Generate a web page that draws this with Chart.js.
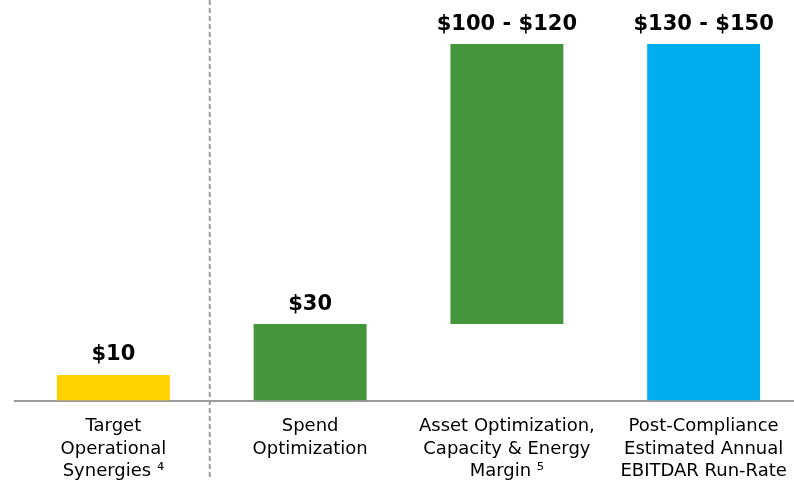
<!DOCTYPE html>
<html>
<head>
<meta charset="utf-8">
<script src="https://cdn.jsdelivr.net/npm/chart.js@4"></script>
<style>
  html, body { margin: 0; padding: 0; background: #fff; overflow: hidden; }
  #wrap { width: 802px; height: 498px; position: relative; }
</style>
</head>
<body>
<div id="wrap"><canvas id="grafica"></canvas></div>
<script>
var categorias = [
    ["Target", "Operational", "Synergies \u2074"],
    ["Spend", "Optimization"],
    ["Asset Optimization,", "Capacity & Energy", "Margin \u2075"],
    ["Post-Compliance", "Estimated Annual", "EBITDAR Run-Rate"]
];
var inicio = [0, 0, 30, 0];      // base of each bar
var fin = [10, 30, 140, 140];     // top of each bar
var etiquetas = ["$10", "$30", "$100 - $120", "$130 - $150"];
var colores = ["#ffd200", "#43963b", "#43963b", "#00aeef"];

var colorGris = "#9a9a9a";
var fuente = "'DejaVu Sans', Verdana, sans-serif";

var datos = inicio.map(function (v, i) { return [v, fin[i]]; });

// value labels above each bar
var pluginEtiquetas = {
    id: 'etiquetas',
    afterDatasetsDraw: function (chart) {
        var ctx = chart.ctx;
        var meta = chart.getDatasetMeta(0);
        ctx.save();
        ctx.font = "bold 21px " + fuente;
        ctx.fillStyle = "#000";
        ctx.textAlign = "center";
        ctx.textBaseline = "middle";
        meta.data.forEach(function (bar, i) {
            ctx.fillText(etiquetas[i], bar.x, bar.y - 20);
        });
        ctx.restore();
    }
};

// dashed separator between the first and second category
var pluginSeparador = {
    id: 'separador',
    afterDraw: function (chart) {
        var x = chart.scales.x;
        var px = (x.getPixelForValue(0) + x.getPixelForValue(1)) / 2 - 2;
        var ctx = chart.ctx;
        ctx.save();
        ctx.strokeStyle = colorGris;
        ctx.lineWidth = 2;
        ctx.setLineDash([5, 3]);
        ctx.beginPath();
        ctx.moveTo(px, 0);
        ctx.lineTo(px, 480);
        ctx.stroke();
        ctx.restore();
    }
};

var grafica = new Chart(document.getElementById('grafica'), {
    type: 'bar',
    data: {
        labels: categorias,
        datasets: [{
            data: datos,
            backgroundColor: colores,
            borderWidth: 0,
            borderSkipped: false,
            barPercentage: 1,
            categoryPercentage: 0.574
        }]
    },
    options: {
        responsive: true,
        maintainAspectRatio: false,
        animation: false,
        layout: { padding: { left: 15, right: 0, top: 0, bottom: 0 } },
        plugins: {
            legend: { display: false },
            tooltip: { enabled: false }
        },
        scales: {
            x: {
                grid: { display: false, drawTicks: false },
                border: { display: true, color: colorGris, width: 2 },
                ticks: {
                    color: "#000",
                    font: { family: fuente, size: 18, lineHeight: 1.25 },
                    padding: 15,
                    maxRotation: 0,
                    autoSkip: false
                }
            },
            y: {
                display: false,
                min: 0,
                max: 157.3
            }
        }
    },
    plugins: [pluginEtiquetas, pluginSeparador]
});
</script>
</body>
</html>
